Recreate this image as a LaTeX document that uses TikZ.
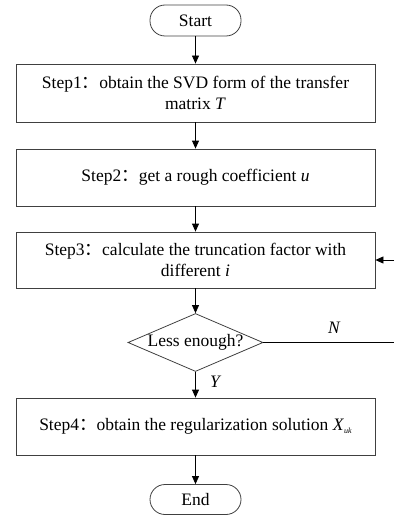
\documentclass[tikz,border=0pt]{standalone}
\usepackage{fontspec}
\setmainfont{Liberation Serif}
\newfontfamily\cjk{Noto Sans CJK SC}
\usetikzlibrary{shapes.geometric,arrows.meta}
\tikzset{
  base/.style={draw=black!75, line width=0.8pt, align=center, inner sep=2pt,
    font=\fontsize{17.5}{20.5}\selectfont},
  stepbox/.style={base, rectangle, minimum width=359pt},
  terminal/.style={base, rectangle, rounded corners=15pt, minimum width=91pt, minimum height=31pt},
  decision/.style={base, diamond, inner sep=-3pt, minimum width=135pt, minimum height=58pt, shape aspect=2.33},
  conn/.style={draw=black, line width=0.8pt, -{Triangle[length=8pt,width=7pt]}},
  plain/.style={draw=black, line width=0.8pt},
  lab/.style={font=\fontsize{17.5}{20.5}\selectfont\itshape, inner sep=0pt}
}
\newcommand{\fc}{{\cjk ：}}
\begin{document}
\begin{tikzpicture}[x=1pt,y=-1pt]
\useasboundingbox (0,0) rectangle (394,516);
\node[terminal] (start) at (195.5,20.5) {Start};
\node[stepbox, minimum height=58pt] (s1) at (195.5,93) {Step1\fc obtain the SVD form of the transfer\\matrix \textit{T}};
\node[stepbox, minimum height=57pt] (s2) at (195.5,177.5) {Step2\fc get a rough coefficient \textit{u}};
\node[stepbox, minimum height=56pt] (s3) at (195.5,260) {Step3\fc calculate the truncation factor with\\different \textit{i}};
\node[decision] (dec) at (195.5,342.5) {Less enough?};
\node[stepbox, minimum height=57pt] (s4) at (195.5,426.5) {Step4\fc obtain the regularization solution \textit{X}\raisebox{-0.35ex}{\fontsize{8}{8}\selectfont\textit{uk}}};
\node[terminal, minimum height=30pt] (end) at (195.5,499.5) {End};
\coordinate (nR) at (394,342.5);
\coordinate (nIn) at (394,260);
\draw[conn] (start) -- (s1);
\draw[conn] (s1) -- (s2);
\draw[conn] (s2) -- (s3);
\draw[conn] (s3) -- (dec);
\draw[conn] (dec) -- (s4);
\draw[conn] (s4) -- (end);
\draw[plain] (dec.east) -- (nR);
\draw[conn] (nIn) -- (s3.east);
\node[lab] (nlab) at (334,328) {N};
\node[lab] (ylab) at (215,382) {Y};
\end{tikzpicture}
\end{document}
